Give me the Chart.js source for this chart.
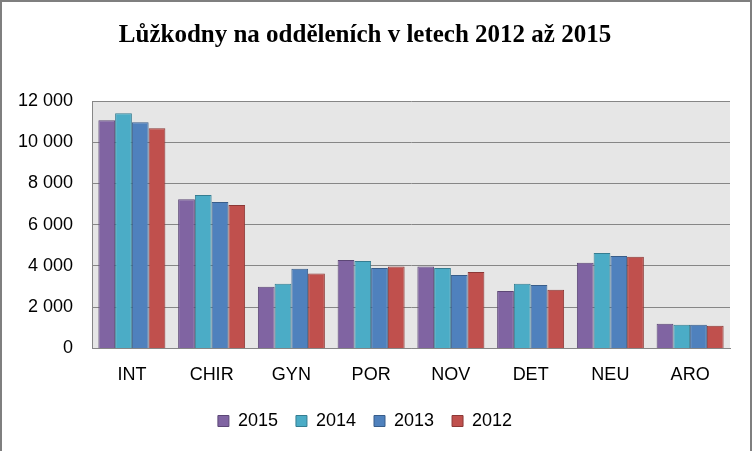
<!DOCTYPE html>
<html>
<head>
<meta charset="utf-8">
<script src="https://cdn.jsdelivr.net/npm/chart.js@4"></script>
<style>
  html, body { margin: 0; padding: 0; background: #fff; }
  #wrap { width: 753px; height: 451px; position: relative; }
</style>
</head>
<body>
<div id="wrap"><canvas id="chart" width="753" height="451"></canvas></div>
<script>
const categories = ["INT", "CHIR", "GYN", "POR", "NOV", "DET", "NEU", "ARO"];
const years = ["2015", "2014", "2013", "2012"];
const values2015 = [11070, 7240, 2990, 4290, 3970, 2790, 4150, 1190];
const values2014 = [11400, 7440, 3130, 4240, 3900, 3130, 4630, 1150];
const values2013 = [10970, 7100, 3860, 3900, 3560, 3080, 4480, 1150];
const values2012 = [10680, 6950, 3630, 3970, 3710, 2840, 4440, 1100];
const yTicks = [0, 2000, 4000, 6000, 8000, 10000, 12000];

const fills = ["#8064A2", "#4BACC6", "#4F81BD", "#C0504D"];
const edges = ["#5C4776", "#357D91", "#385D8A", "#8C3836"];

// gray plot background + outer frame
const frame = {
  id: "frame",
  beforeDraw(chart) {
    const { ctx, chartArea: a } = chart;
    ctx.save();
    ctx.fillStyle = "#E6E6E6";
    ctx.fillRect(a.left, a.top, a.right - a.left, a.bottom - a.top);
    ctx.restore();
  },
  afterDraw(chart) {
    const ctx = chart.ctx;
    ctx.save();
    ctx.strokeStyle = "#7F7F7F";
    ctx.lineWidth = 2;
    ctx.strokeRect(1, 1, 750, 460);
    ctx.restore();
  }
};

const ctx = document.getElementById("chart").getContext("2d");
const seriesValues = [values2015, values2014, values2013, values2012];

new Chart(ctx, {
  type: "bar",
  data: {
    labels: categories,
    datasets: years.map((y, i) => ({
      label: y,
      data: seriesValues[i],
      backgroundColor: fills[i],
      borderColor: edges[i],
      borderWidth: 1,
      categoryPercentage: 0.84,
      barPercentage: 1
    }))
  },
  options: {
    responsive: false,
    animation: false,
    layout: { padding: { left: 0, right: 23, top: 0, bottom: 11 } },
    plugins: {
      title: {
        display: true,
        text: "Lůžkodny na odděleních v letech 2012 až 2015",
        color: "#000",
        font: { family: "Liberation Serif", size: 25, weight: "bold" },
        padding: { top: 21, bottom: 50 }
      },
      legend: {
        position: "bottom",
        labels: {
          color: "#000",
          font: { family: "Liberation Sans", size: 18 },
          boxWidth: 11,
          boxHeight: 11,
          padding: 18
        }
      },
      tooltip: { enabled: false }
    },
    scales: {
      x: {
        grid: { display: false },
        border: { color: "#868686", width: 1 },
        ticks: { color: "#000", font: { family: "Liberation Sans", size: 18 }, padding: 8 }
      },
      y: {
        min: 0,
        max: 12000,
        afterFit(scale) { scale.width = 92; },
        afterBuildTicks(scale) { scale.ticks = yTicks.map(v => ({ value: v })); },
        grid: { color: "#868686", lineWidth: 1, drawTicks: false },
        border: { color: "#868686", width: 1 },
        ticks: {
          color: "#000",
          font: { family: "Liberation Sans", size: 18 },
          padding: 19,
          callback: v => String(v).replace(/\B(?=(\d{3})+(?!\d))/g, " ")
        }
      }
    }
  },
  plugins: [frame]
});
</script>
</body>
</html>
